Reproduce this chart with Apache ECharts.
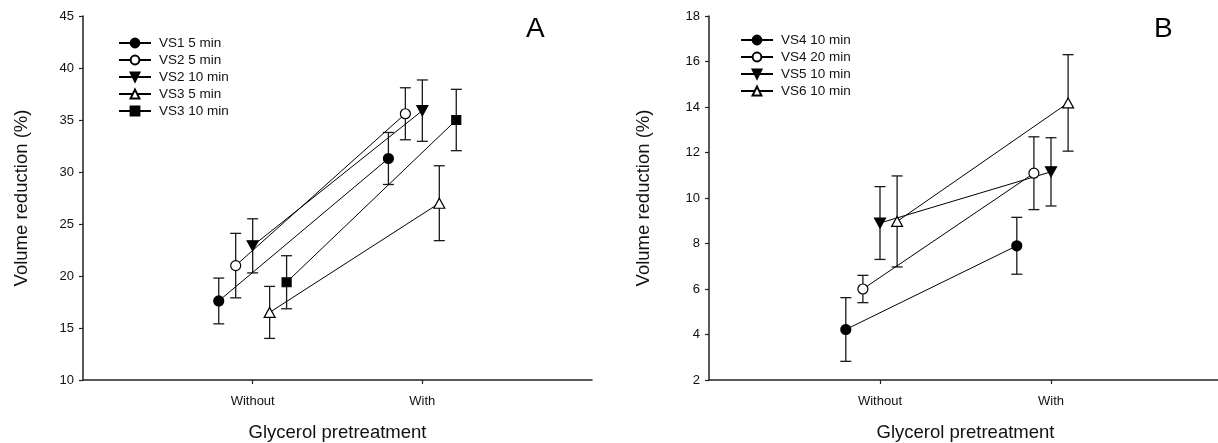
<!DOCTYPE html>
<html>
<head>
<meta charset="utf-8">
<title>Volume reduction vs glycerol pretreatment</title>
<script src="https://cdn.jsdelivr.net/npm/echarts@6/dist/echarts.min.js"></script>
<style>
  html, body { margin: 0; padding: 0; background: #fff; }
  #chart { width: 1218px; height: 443px; }
</style>
</head>
<body>
<div id="chart"></div>
<script>
// Treatment groups on the x axis
const categories = ['Without', 'With'];

// Panel A: mean volume reduction (%) and SD per solution/exposure
const namesA = ['VS1 5 min', 'VS2 5 min', 'VS2 10 min', 'VS3 5 min', 'VS3 10 min'];
const meansA = [
  [17.6, 31.3],
  [21.0, 35.6],
  [22.9, 35.9],
  [16.5, 27.0],
  [19.4, 35.0]
];
const sdA = [
  [2.2, 2.5],
  [3.1, 2.5],
  [2.6, 2.95],
  [2.5, 3.6],
  [2.55, 2.95]
];
const ticksA = [10, 15, 20, 25, 30, 35, 40, 45];

// Panel B
const namesB = ['VS4 10 min', 'VS4 20 min', 'VS5 10 min', 'VS6 10 min'];
const meansB = [
  [4.22, 7.9],
  [6.0, 11.09],
  [8.9, 11.15],
  [8.97, 14.18]
];
const sdB = [
  [1.4, 1.25],
  [0.6, 1.6],
  [1.6, 1.5],
  [2.0, 2.12]
];
const ticksB = [2, 4, 6, 8, 10, 12, 14, 16, 18];

const FONT = '"Liberation Sans", Arial, Helvetica, sans-serif';
const INK = '#111';

// Marker styles, in legend order
const TRI_DOWN = 'path://M0,0 L10,0 L5,9 Z';
const TRI_UP = 'path://M5,0 L10,9 L0,9 Z';
const markers = [
  { symbol: 'circle', size: 10, fill: '#000' },
  { symbol: 'circle', size: 10, fill: '#fff' },
  { symbol: TRI_DOWN, size: [11, 10], fill: '#000' },
  { symbol: TRI_UP, size: [11, 10], fill: '#fff' },
  { symbol: 'rect', size: 9, fill: '#000' }
];

// Series within a group are spread sideways around the category position
const SPREAD = 0.1;

function buildSeries(names, means, sds, axisIdx) {
  const out = [];
  names.forEach((name, i) => {
    const dx = (i - 2) * SPREAD;
    const pts = means[i].map((m, c) => [c + 1 + dx, m]);
    const bars = means[i].map((m, c) => [c + 1 + dx, m - sds[i][c], m + sds[i][c]]);
    const mk = markers[i];
    // SD whiskers with caps
    out.push({
      type: 'custom',
      name: name + ' SD',
      xAxisIndex: axisIdx,
      yAxisIndex: axisIdx,
      z: 2,
      silent: true,
      data: bars,
      renderItem: function (params, api) {
        const x = api.value(0);
        const lo = api.coord([x, api.value(1)]);
        const hi = api.coord([x, api.value(2)]);
        const cap = 5.5;
        const st = { stroke: '#1a1a1a', lineWidth: 1.3 };
        return {
          type: 'group',
          children: [
            { type: 'line', shape: { x1: lo[0], y1: lo[1], x2: hi[0], y2: hi[1] }, style: st },
            { type: 'line', shape: { x1: hi[0] - cap, y1: hi[1], x2: hi[0] + cap, y2: hi[1] }, style: st },
            { type: 'line', shape: { x1: lo[0] - cap, y1: lo[1], x2: lo[0] + cap, y2: lo[1] }, style: st }
          ]
        };
      }
    });
    out.push({
      type: 'line',
      name: name,
      xAxisIndex: axisIdx,
      yAxisIndex: axisIdx,
      z: 5,
      data: pts,
      symbol: mk.symbol,
      symbolSize: mk.size,
      showSymbol: true,
      lineStyle: { color: '#000', width: 1 },
      itemStyle: { color: mk.fill, borderColor: '#000', borderWidth: 1.2 },
      emphasis: { disabled: true }
    });
  });
  return out;
}

function xAxisFor(gridIndex) {
  return {
    type: 'value',
    gridIndex: gridIndex,
    min: 0,
    max: 3,
    interval: 1,
    name: 'Glycerol pretreatment',
    nameLocation: 'middle',
    nameGap: 43,
    nameTextStyle: { fontFamily: FONT, fontSize: 18.5, color: INK },
    axisLine: { show: true, lineStyle: { color: '#222', width: 1.5 } },
    axisTick: { show: true, inside: false, length: 4, customValues: [1, 2], lineStyle: { color: '#222', width: 1.2 } },
    axisLabel: {
      customValues: [1, 2],
      margin: 15,
      fontFamily: FONT,
      fontSize: 13,
      color: INK,
      formatter: v => categories[Math.round(v) - 1] || ''
    },
    splitLine: { show: false }
  };
}

function yAxisFor(gridIndex, ticks, gap) {
  return {
    type: 'value',
    gridIndex: gridIndex,
    min: ticks[0],
    max: ticks[ticks.length - 1],
    interval: ticks[1] - ticks[0],
    name: 'Volume reduction (%)',
    nameLocation: 'middle',
    nameGap: gap,
    nameRotate: 90,
    nameTextStyle: { fontFamily: FONT, fontSize: 18.5, color: INK },
    axisLine: { show: true, lineStyle: { color: '#222', width: 1.5 } },
    axisTick: { show: true, inside: false, length: 4, lineStyle: { color: '#222', width: 1.2 } },
    axisLabel: { margin: 9, fontFamily: FONT, fontSize: 13, color: INK },
    splitLine: { show: false }
  };
}

function legendFor(names, left, top) {
  return {
    data: names,
    orient: 'vertical',
    left: left,
    top: top,
    itemWidth: 32,
    itemHeight: 11,
    itemGap: 3,
    selectedMode: false,
    textStyle: { fontFamily: FONT, fontSize: 13.5, color: INK, padding: [0, 0, 0, 3] },
    padding: 0
  };
}

const chart = echarts.init(document.getElementById('chart'), null, { renderer: 'canvas' });
chart.setOption({
  animation: false,
  backgroundColor: '#fff',
  title: [
    { text: 'A', left: 526, top: 15, padding: 0, textStyle: { fontFamily: FONT, fontSize: 28, fontWeight: 'normal', color: '#000' } },
    { text: 'B', left: 1154, top: 15, padding: 0, textStyle: { fontFamily: FONT, fontSize: 28, fontWeight: 'normal', color: '#000' } }
  ],
  grid: [
    { left: 83, top: 16, width: 509, height: 364, outerBoundsMode: 'none', containLabel: false },
    { left: 709, top: 16, width: 513, height: 364, outerBoundsMode: 'none', containLabel: false }
  ],
  legend: [
    legendFor(namesA, 118, 36),
    legendFor(namesB, 740, 33)
  ],
  xAxis: [xAxisFor(0), xAxisFor(1)],
  yAxis: [yAxisFor(0, ticksA, 52), yAxisFor(1, ticksB, 56)],
  series: buildSeries(namesA, meansA, sdA, 0).concat(buildSeries(namesB, meansB, sdB, 1))
});
</script>
</body>
</html>
